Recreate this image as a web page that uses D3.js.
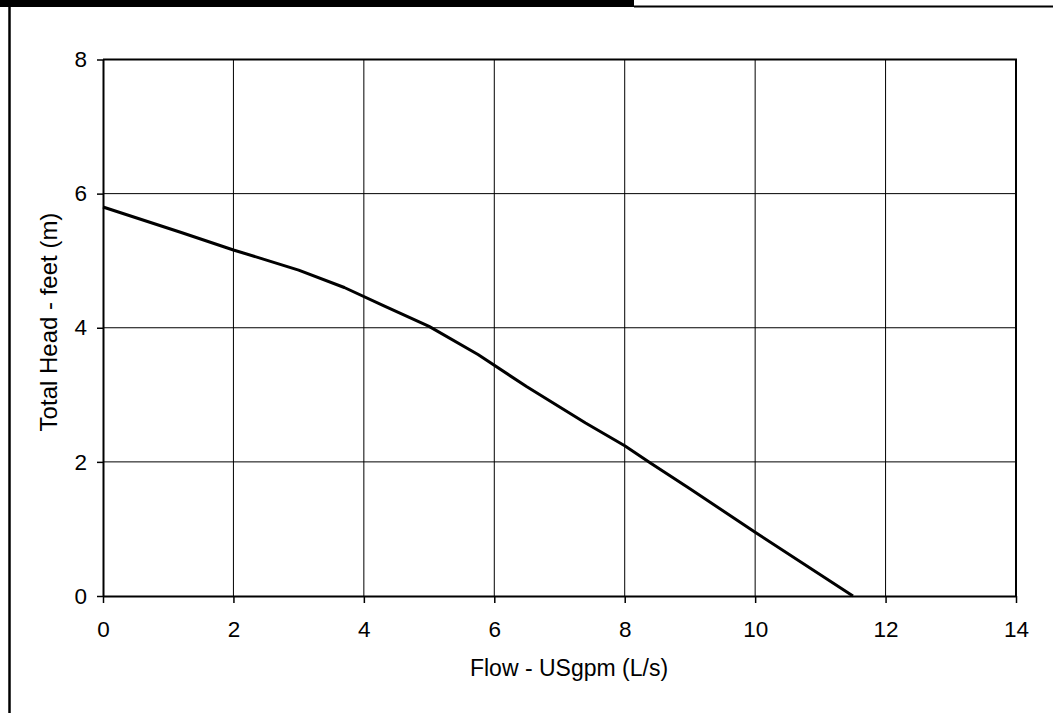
<!DOCTYPE html>
<html>
<head>
<meta charset="utf-8">
<script src="https://cdn.jsdelivr.net/npm/d3@7"></script>
<style>
  body { margin: 0; background: #fff; }
  svg text { font-family: "Liberation Sans", Arial, sans-serif; fill: #000; }
</style>
</head>
<body>
<svg id="chart"></svg>
<script>
const svgWidth = 1053;
const svgHeight = 713;

// pump curve
const flow = [0, 1.2, 2, 3, 3.7, 4.3, 5, 5.75, 6.5, 7.4, 8, 8.4, 9, 10, 11.5];
const head = [5.8, 5.42, 5.16, 4.86, 4.6, 4.33, 4.02, 3.6, 3.12, 2.58, 2.24, 1.98, 1.6, 0.95, 0];

const xTicks = [0, 2, 4, 6, 8, 10, 12, 14];
const yTicks = [0, 2, 4, 6, 8];

const xTitle = "Flow - USgpm (L/s)";
const yTitle = "Total Head - feet (m)";

const margin = { top: 59.5, right: 37, bottom: 117, left: 103 };
const width = svgWidth - margin.left - margin.right;
const height = svgHeight - margin.top - margin.bottom;

const svg = d3.select("#chart")
  .attr("width", svgWidth)
  .attr("height", svgHeight);

// page frame: black bar, thin rule and left border
svg.append("rect")
  .attr("x", 0).attr("y", 0)
  .attr("width", 634).attr("height", 7)
  .attr("fill", "#000");
svg.append("line")
  .attr("x1", 634).attr("x2", svgWidth)
  .attr("y1", 6.5).attr("y2", 6.5)
  .attr("stroke", "#000").attr("stroke-width", 2);
svg.append("line")
  .attr("x1", 9.5).attr("x2", 9.5)
  .attr("y1", 0).attr("y2", svgHeight)
  .attr("stroke", "#000").attr("stroke-width", 2.5);

const g = svg.append("g")
  .attr("transform", `translate(${margin.left},${margin.top})`);

const x = d3.scaleLinear().domain([0, 14]).range([0, width]);
const y = d3.scaleLinear().domain([0, 8]).range([height, 0]);

// grid
g.append("g")
  .selectAll("line")
  .data(xTicks.slice(1, -1))
  .join("line")
  .attr("x1", d => x(d)).attr("x2", d => x(d))
  .attr("y1", 0).attr("y2", height)
  .attr("stroke", "#000").attr("stroke-width", 1);

g.append("g")
  .selectAll("line")
  .data(yTicks.slice(1, -1))
  .join("line")
  .attr("x1", 0).attr("x2", width)
  .attr("y1", d => y(d)).attr("y2", d => y(d))
  .attr("stroke", "#000").attr("stroke-width", 1);

// top and right border
g.append("path")
  .attr("d", `M0,0H${width}V${height}`)
  .attr("fill", "none")
  .attr("stroke", "#000")
  .attr("stroke-width", 2);

const xAxis = g.append("g")
  .attr("transform", `translate(0,${height})`)
  .call(d3.axisBottom(x).tickValues(xTicks).tickSize(7).tickPadding(18).tickSizeOuter(0));

const yAxis = g.append("g")
  .call(d3.axisLeft(y).tickValues(yTicks).tickSize(6).tickPadding(10).tickSizeOuter(0));

[xAxis, yAxis].forEach(a => {
  a.attr("font-size", null).attr("font-family", null);
  a.select(".domain").attr("stroke", "#000").attr("stroke-width", 2);
  a.selectAll(".tick line").attr("stroke", "#000").attr("stroke-width", 1.5);
  a.selectAll(".tick text")
    .style("font-size", "22.5px")
    .attr("fill", "#000");
});

// curve
const line = d3.line()
  .x((d, i) => x(flow[i]))
  .y(d => y(d));

g.append("path")
  .datum(head)
  .attr("fill", "none")
  .attr("stroke", "#000")
  .attr("stroke-width", 3)
  .attr("stroke-linejoin", "round")
  .attr("d", line);

// axis titles
svg.append("text")
  .attr("x", 569)
  .attr("y", 676)
  .attr("text-anchor", "middle")
  .style("font-size", "23px")
  .text(xTitle);

svg.append("text")
  .attr("transform", "translate(57,322) rotate(-90)")
  .attr("text-anchor", "middle")
  .style("font-size", "24px")
  .text(yTitle);
</script>
</body>
</html>
